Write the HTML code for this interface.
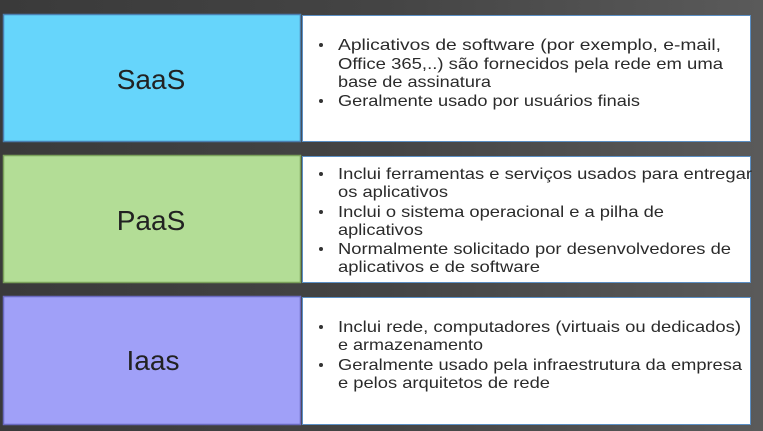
<!DOCTYPE html>
<html><head><style>
body{margin:0;width:763px;height:431px;overflow:hidden;background:#3c3c3c;}
svg{display:block}
</style></head><body>
<svg width="763" height="431" xmlns="http://www.w3.org/2000/svg">
<defs>
<linearGradient id="bg" x1="0" x2="1" y1="0" y2="0">
<stop offset="0" stop-color="#3a3a3a"/><stop offset="0.5" stop-color="#444"/><stop offset="1" stop-color="#5a5a5a"/>
</linearGradient>
</defs>
<rect width="763" height="431" fill="url(#bg)"/>
<g stroke="#4a7fb0" stroke-width="1.5">
<rect x="3.5" y="14.5" width="297" height="127" fill="#66d5fb"/>
<rect x="3.5" y="155.5" width="297" height="127" fill="#b3dd96" stroke="#7aa05a"/>
<rect x="3.5" y="296.5" width="297" height="128" fill="#a0a0f8" stroke="#6a6ac0"/>
</g>
<g fill="#fff" stroke="#5b8fc4" stroke-width="1">
<rect x="302.5" y="15.5" width="448" height="126"/>
<rect x="302.5" y="156.5" width="448" height="126"/>
<rect x="302.5" y="297.5" width="448" height="127"/>
</g>
<g font-family="Liberation Sans, sans-serif" font-size="28" fill="#222" text-anchor="middle">
<text x="151" y="89">SaaS</text>
<text x="151" y="230">PaaS</text>
<text x="153" y="370">Iaas</text>
</g>
<g fill="#333">
<circle cx="321" cy="45" r="2"/><circle cx="321" cy="101" r="2"/>
<circle cx="321" cy="174" r="2"/><circle cx="321" cy="212" r="2"/><circle cx="321" cy="249" r="2"/>
<circle cx="321" cy="327" r="2"/><circle cx="321" cy="365" r="2"/>
</g>
<g font-family="Liberation Sans, sans-serif" font-size="16" fill="#2a2a2a">
<text x="338" y="50" textLength="383" lengthAdjust="spacingAndGlyphs">Aplicativos de software (por exemplo, e-mail,</text>
<text x="338" y="69" textLength="385" lengthAdjust="spacingAndGlyphs">Office 365,..) são fornecidos pela rede em uma</text>
<text x="338" y="87" textLength="153" lengthAdjust="spacingAndGlyphs">base de assinatura</text>
<text x="338" y="106" textLength="302" lengthAdjust="spacingAndGlyphs">Geralmente usado por usuários finais</text>

<text x="338" y="179" textLength="414" lengthAdjust="spacingAndGlyphs">Inclui ferramentas e serviços usados para entregar</text>
<text x="338" y="197" textLength="110" lengthAdjust="spacingAndGlyphs">os aplicativos</text>
<text x="338" y="217" textLength="326" lengthAdjust="spacingAndGlyphs">Inclui o sistema operacional e a pilha de</text>
<text x="338" y="235" textLength="85" lengthAdjust="spacingAndGlyphs">aplicativos</text>
<text x="338" y="254" textLength="393" lengthAdjust="spacingAndGlyphs">Normalmente solicitado por desenvolvedores de</text>
<text x="338" y="272" textLength="202" lengthAdjust="spacingAndGlyphs">aplicativos e de software</text>

<text x="338" y="332" textLength="403" lengthAdjust="spacingAndGlyphs">Inclui rede, computadores (virtuais ou dedicados)</text>
<text x="338" y="350" textLength="145" lengthAdjust="spacingAndGlyphs">e armazenamento</text>
<text x="338" y="370" textLength="404" lengthAdjust="spacingAndGlyphs">Geralmente usado pela infraestrutura da empresa</text>
<text x="338" y="388" textLength="212" lengthAdjust="spacingAndGlyphs">e pelos arquitetos de rede</text>
</g>
</svg>
</body></html>
